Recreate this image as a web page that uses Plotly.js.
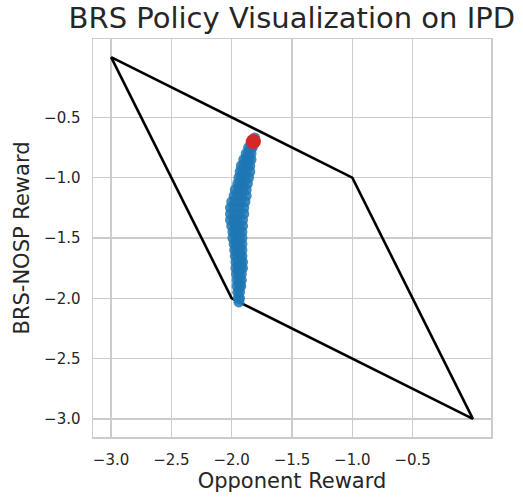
<!DOCTYPE html>
<html>
<head>
<meta charset="utf-8">
<script src="https://cdn.plot.ly/plotly-3.0.1.min.js"></script>
<style>html,body{margin:0;padding:0;background:#fff;}#chart{width:523px;height:498px;}</style>
</head>
<body>
<div id="chart"></div>
<script>
// Feasible payoff region (parallelogram) vertices
var polyX = [-3, -1, 0, -2, -3];
var polyY = [0, -1, -3, -2, 0];

// Policy sample points (opponent reward, BRS-NOSP reward)
var pointX = [
  -1.81,
  -1.84,-1.82,
  -1.86,-1.84,-1.83,
  -1.88,-1.86,-1.84,
  -1.90,-1.88,-1.86,-1.84,
  -1.92,-1.90,-1.87,-1.85,
  -1.93,-1.91,-1.88,-1.85,
  -1.94,-1.92,-1.89,-1.86,
  -1.95,-1.93,-1.90,-1.87,
  -1.97,-1.94,-1.91,-1.88,
  -1.98,-1.95,-1.92,-1.88,
  -2.00,-1.97,-1.93,-1.89,
  -2.01,-1.98,-1.94,-1.90,
  -2.01,-1.98,-1.94,-1.90,
  -2.01,-1.98,-1.95,-1.91,
  -2.00,-1.97,-1.94,-1.91,
  -1.99,-1.97,-1.94,-1.915,
  -1.99,-1.96,-1.94,-1.915,
  -1.98,-1.96,-1.94,-1.915,
  -1.975,-1.955,-1.935,-1.915,
  -1.97,-1.95,-1.93,-1.915,
  -1.965,-1.945,-1.925,-1.91,
  -1.965,-1.945,-1.925,-1.91,
  -1.96,-1.94,-1.92,
  -1.955,-1.935,-1.92,
  -1.955,-1.935,-1.925,
  -1.95,-1.935,
  -1.945,-1.935,
  -1.94
];
var pointY = [
  -0.67,
  -0.71,-0.71,
  -0.75,-0.75,-0.75,
  -0.80,-0.80,-0.80,
  -0.85,-0.85,-0.85,-0.85,
  -0.90,-0.90,-0.90,-0.90,
  -0.95,-0.95,-0.95,-0.95,
  -1.00,-1.00,-1.00,-1.00,
  -1.05,-1.05,-1.05,-1.05,
  -1.10,-1.10,-1.10,-1.10,
  -1.15,-1.15,-1.15,-1.15,
  -1.20,-1.20,-1.20,-1.20,
  -1.25,-1.25,-1.25,-1.25,
  -1.30,-1.30,-1.30,-1.30,
  -1.35,-1.35,-1.35,-1.35,
  -1.40,-1.40,-1.40,-1.40,
  -1.45,-1.45,-1.45,-1.45,
  -1.50,-1.50,-1.50,-1.50,
  -1.55,-1.55,-1.55,-1.55,
  -1.60,-1.60,-1.60,-1.60,
  -1.65,-1.65,-1.65,-1.65,
  -1.70,-1.70,-1.70,-1.70,
  -1.75,-1.75,-1.75,-1.75,
  -1.80,-1.80,-1.80,
  -1.85,-1.85,-1.85,
  -1.90,-1.90,-1.90,
  -1.95,-1.95,
  -2.00,-2.00,
  -2.03
];

// Final policy point
var finalX = [-1.82];
var finalY = [-0.70];

var tickVals = [-3.0, -2.5, -2.0, -1.5, -1.0, -0.5];
var tickText = ['\u22123.0', '\u22122.5', '\u22122.0', '\u22121.5', '\u22121.0', '\u22120.5'];

var font = 'DejaVu Sans, sans-serif';
var textColor = '#262626';

var traces = [
  {x: polyX, y: polyY, type: 'scatter', mode: 'lines',
   line: {color: '#000000', width: 2.6}, hoverinfo: 'skip'},
  {x: pointX, y: pointY, type: 'scatter', mode: 'markers',
   marker: {color: 'rgba(31,119,180,0.85)', size: 11, line: {width: 0, color: 'rgba(0,0,0,0)'}}},
  {x: finalX, y: finalY, type: 'scatter', mode: 'markers',
   marker: {color: '#d62728', size: 15, line: {width: 0}}}
];

var axisCommon = {
  tickvals: tickVals, ticktext: tickText,
  showgrid: true, gridcolor: '#cccccc', gridwidth: 1.3,
  zeroline: false, showline: true, linecolor: '#cccccc', linewidth: 1.5, mirror: true,
  ticks: '', tickfont: {family: font, size: 15, color: textColor},
  range: [-3.15, 0.15]
};

var layout = {
  width: 523, height: 498,
  margin: {l: 93, r: 32, t: 39, b: 61},
  paper_bgcolor: '#ffffff', plot_bgcolor: '#ffffff',
  showlegend: false,
  title: {text: 'BRS Policy Visualization on IPD', font: {family: font, size: 29, color: textColor},
          x: 0.558, xanchor: 'center', y: 0.985, yanchor: 'top'},
  xaxis: Object.assign({}, axisCommon, {
    title: {text: 'Opponent Reward', font: {family: font, size: 21, color: textColor}, standoff: 6},
    ticklabelstandoff: 8
  }),
  yaxis: Object.assign({}, axisCommon, {
    title: {text: 'BRS-NOSP Reward', font: {family: font, size: 21, color: textColor}, standoff: 8},
    ticklabelstandoff: 8
  })
};

Plotly.newPlot('chart', traces, layout, {staticPlot: true, displayModeBar: false});
</script>
</body>
</html>
